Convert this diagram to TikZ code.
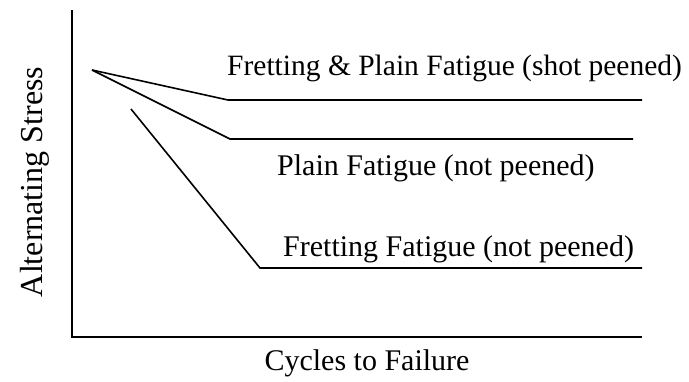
\documentclass[tikz,border=0pt]{standalone}
\usepackage{fontspec}
\setmainfont{Liberation Serif}
\begin{document}
\begin{tikzpicture}[x=1pt,y=-1pt,
  curve/.style={line width=1.6pt,line join=miter},
  axis/.style={line width=1.7pt},
  lbl/.style={inner sep=0pt,font=\fontsize{30}{34}\selectfont}]
\useasboundingbox (0,0) rectangle (689,381);
% axes
\coordinate (ytop) at (72,10);
\coordinate (orig) at (72,337);
\coordinate (xend) at (642,337);
\draw[axis] (ytop) -- (orig) -- (xend);
% curves
\coordinate (s) at (92,70);
\coordinate (k1) at (228,100);
\coordinate (e1) at (642,100);
\coordinate (k2) at (230,139);
\coordinate (e2) at (633,139);
\coordinate (s3) at (131,109);
\coordinate (k3) at (260,268);
\coordinate (e3) at (642,268);
\draw[curve] (s) -- (k1) -- (e1);
\draw[curve] (s) -- (k2) -- (e2);
\draw[curve] (s3) -- (k3) -- (e3);
% labels
\node[lbl,anchor=base west,font=\fontsize{29.5}{34}\selectfont] (l1) at (227,75) {Fretting \& Plain Fatigue (shot peened)};
\node[lbl,anchor=base west] (l2) at (277,175) {Plain Fatigue (not peened)};
\node[lbl,anchor=base west] (l3) at (283,256) {Fretting Fatigue (not peened)};
\node[lbl,anchor=base] (xl) at (367,370) {Cycles to Failure};
\node[lbl,anchor=base,rotate=90,font=\fontsize{32}{36}\selectfont] (yl) at (42,182) {Alternating Stress};
\end{tikzpicture}
\end{document}
